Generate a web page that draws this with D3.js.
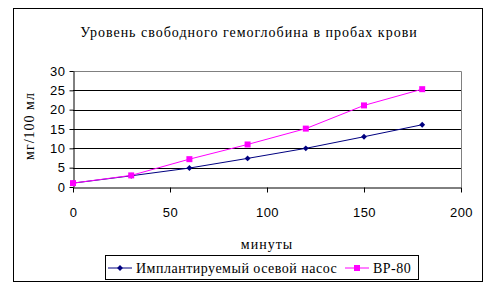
<!DOCTYPE html>
<html>
<head>
<meta charset="utf-8">
<script src="https://cdn.jsdelivr.net/npm/d3@7"></script>
<style>
  body { margin: 0; background: #fff; }
  svg { display: block; }
  .tick text { font-family: "Liberation Sans", Arial, sans-serif; font-size: 13px; letter-spacing: 0.5px; fill: #000; }
</style>
</head>
<body>
<div id="main"></div>
<script>
const minutes = [0, 30, 60, 90, 120, 150, 180];
const pumpValues = [1, 2.9, 4.9, 7.4, 10, 13, 16.1];
const bp80Values = [1, 3.0, 7.2, 11, 15.1, 21.1, 25.3];
const seriesNames = ["Имплантируемый осевой насос", "ВР-80"];
const seriesColors = ["#000080", "#ff00ff"];
const xTicks = [0, 50, 100, 150, 200];
const yTicks = [0, 5, 10, 15, 20, 25, 30];

const width = 486;
const height = 290;
const serif = "'Liberation Serif', 'Times New Roman', serif";

const svg = d3.select("#main")
  .append("svg")
  .attr("width", width)
  .attr("height", height);

// outer frame
svg.append("rect")
  .attr("x", 13.5).attr("y", 8.5)
  .attr("width", 469).attr("height", 273)
  .attr("fill", "#fff")
  .attr("stroke", "#000");

svg.append("text")
  .attr("x", 249)
  .attr("y", 37)
  .attr("text-anchor", "middle")
  .style("font-family", serif)
  .style("font-size", "14px")
  .style("letter-spacing", "1px")
  .text("Уровень свободного гемоглобина в пробах крови");

const xScale = d3.scaleLinear().domain([0, 200]).range([73, 461]);
const yScale = d3.scaleLinear().domain([0, 30]).range([187, 71]);

// plot area border (gray top/right)
svg.append("path")
  .attr("d", `M${xScale(0)},${yScale(30) + 0.5}H${xScale(200) + 0.5}V${yScale(0)}`)
  .attr("fill", "none")
  .attr("stroke", "#808080");

// gridlines
svg.append("g")
  .selectAll("line")
  .data(yTicks.filter(d => d > 0 && d < 30))
  .enter()
  .append("line")
  .attr("x1", xScale(0))
  .attr("x2", xScale(200))
  .attr("y1", d => Math.round(yScale(d)) + 0.5)
  .attr("y2", d => Math.round(yScale(d)) + 0.5)
  .attr("stroke", "#000");

const yAxis = d3.axisLeft(yScale)
  .tickValues(yTicks)
  .tickSize(4)
  .tickPadding(4)
  .tickSizeOuter(0);

const xAxis = d3.axisBottom(xScale)
  .tickValues(xTicks)
  .tickSize(5)
  .tickPadding(15)
  .tickSizeOuter(0);

svg.append("g")
  .attr("transform", "translate(" + (xScale(0) + 0.5) + ",0)")
  .call(yAxis)
  .call(g => g.selectAll("line, path").attr("stroke", "#000"));

svg.append("g")
  .attr("transform", "translate(0," + (yScale(0) + 0.5) + ")")
  .call(xAxis)
  .call(g => g.selectAll("line, path").attr("stroke", "#000"));

svg.append("text")
  .attr("x", 267)
  .attr("y", 249)
  .attr("text-anchor", "middle")
  .style("font-family", serif)
  .style("font-size", "14px")
  .style("letter-spacing", "1px")
  .text("минуты");

svg.append("text")
  .attr("transform", "translate(34,126) rotate(-90)")
  .attr("text-anchor", "middle")
  .style("font-family", serif)
  .style("font-size", "14px")
  .style("letter-spacing", "1px")
  .text("мг/100 мл");

const line = d3.line()
  .x((d, i) => xScale(minutes[i]))
  .y(d => yScale(d));

const series = [pumpValues, bp80Values];

series.forEach((vals, s) => {
  svg.append("path")
    .datum(vals)
    .attr("d", line)
    .attr("fill", "none")
    .attr("stroke", seriesColors[s])
    .attr("stroke-width", 1);
});

// markers
svg.append("g")
  .selectAll("path")
  .data(pumpValues)
  .enter()
  .append("path")
  .attr("d", d3.symbol().type(d3.symbolDiamond2).size(22))
  .attr("transform", (d, i) => `translate(${xScale(minutes[i])},${yScale(d)})`)
  .attr("fill", seriesColors[0]);

svg.append("g")
  .selectAll("rect")
  .data(bp80Values)
  .enter()
  .append("rect")
  .attr("x", (d, i) => xScale(minutes[i]) - 3)
  .attr("y", d => yScale(d) - 3)
  .attr("width", 6)
  .attr("height", 6)
  .attr("fill", seriesColors[1]);

// legend
const legend = svg.append("g");
legend.append("rect")
  .attr("x", 105.5).attr("y", 255.5)
  .attr("width", 313).attr("height", 24)
  .attr("fill", "#fff")
  .attr("stroke", "#000");

const legendX = [108, 345];
seriesNames.forEach((name, s) => {
  const g = legend.append("g").attr("transform", `translate(${legendX[s]},268)`);
  g.append("line")
    .attr("x1", 0).attr("x2", 24)
    .attr("stroke", seriesColors[s]);
  if (s === 0) {
    g.append("path")
      .attr("d", d3.symbol().type(d3.symbolDiamond2).size(22))
      .attr("transform", "translate(12,0)")
      .attr("fill", seriesColors[s]);
  } else {
    g.append("rect")
      .attr("x", 9).attr("y", -3)
      .attr("width", 6).attr("height", 6)
      .attr("fill", seriesColors[s]);
  }
  g.append("text")
    .attr("x", 28)
    .attr("y", 5)
    .style("font-family", serif)
    .style("font-size", "14px")
    .style("letter-spacing", "0.5px")
    .text(name);
});
</script>
</body>
</html>
